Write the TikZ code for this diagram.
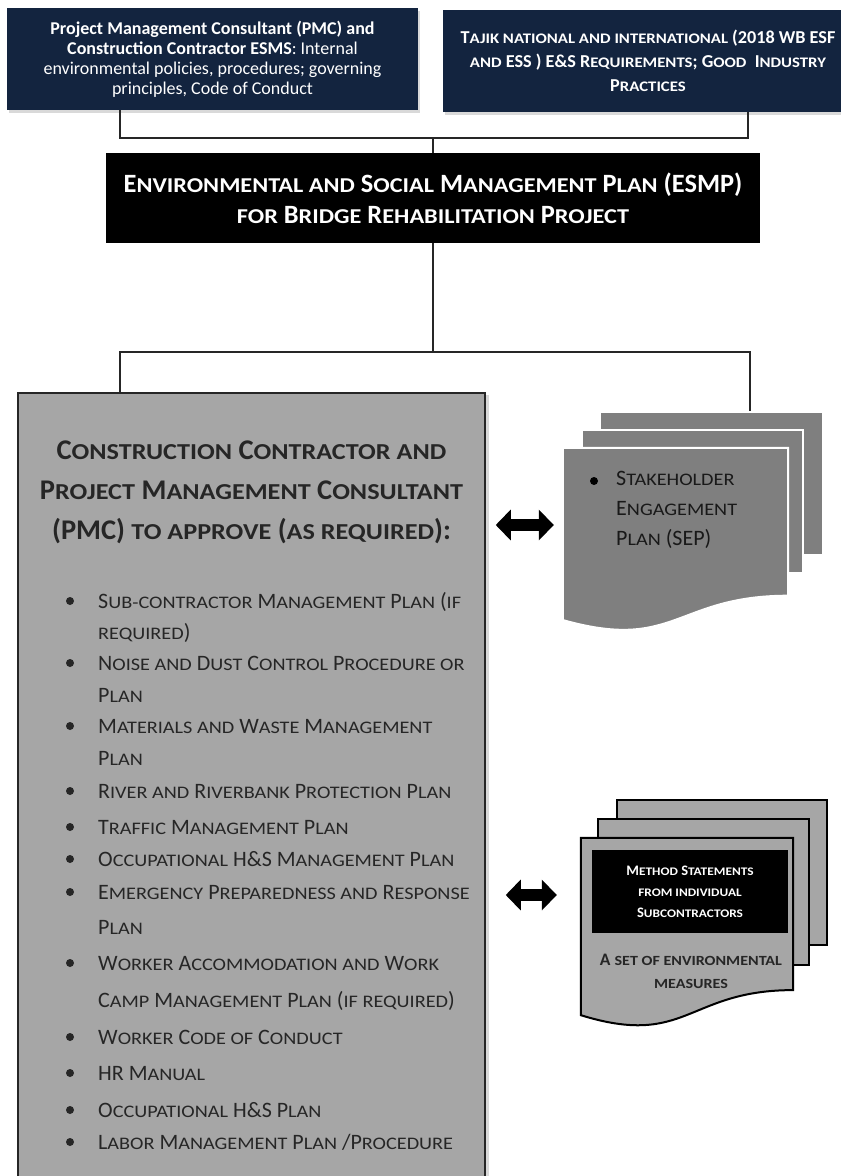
\documentclass[tikz,border=0pt]{standalone}
\usepackage{fontspec}
\setmainfont{Carlito}
\newfontfamily\smcfont{Carlito}[Scale=0.8,FakeStretch=1.15]
\newcommand\smc[1]{{\smcfont\MakeUppercase{#1}}}
\usetikzlibrary{arrows.meta,calc,shadows}
\definecolor{Navy}{HTML}{13243F}
\definecolor{Slate}{HTML}{A6A6A6}
\definecolor{Steel}{HTML}{7F7F7F}
\definecolor{Ink}{HTML}{262626}
\tikzset{
  sized/.style 2 args={minimum width=#1pt,minimum height=#2pt,inner sep=0pt},
  navybox/.style={fill=Navy,text=white,align=center,
    drop shadow={shadow xshift=2pt,shadow yshift=-3pt,opacity=.3}},
  blackbox/.style={fill=black,text=white,align=center},
  plansbox/.style={fill=Slate,draw=Ink,line width=1.5pt,
    drop shadow={shadow xshift=4pt,shadow yshift=-2pt,opacity=.3}},
  seppage/.style={fill=Steel,draw=white,line width=2pt},
  mspage/.style={fill=Slate,draw=black,line width=2pt},
  link/.style={draw=Ink,line width=1.3pt},
  bigarrow/.style={line width=12pt,
    {Triangle[length=15pt,width=30pt]}-{Triangle[length=15pt,width=30pt]}},
  listline/.style={anchor=base west,inner sep=0pt,text=Ink,
    font=\fontsize{22}{31}\selectfont}
}
% page with a wavy lower edge
\newcommand\wavepage[2]{%
  \path[#2] (#1.north west) -- (#1.north east)
    -- ($(#1.north east)!.802!(#1.south east)$)
    .. controls ($(#1.north)!.802!(#1.south)$) and ($(#1.north)!1.107!(#1.south)$)
    .. ($(#1.north west)!.934!(#1.south west)$) -- cycle;}

\begin{document}
\begin{tikzpicture}[x=1pt,y=-1pt]
  \useasboundingbox (0,0) rectangle (841,1176);
  \clip (0,0) rectangle (841,1176);

  % sources
  \node[navybox,sized={411}{102},font=\fontsize{18}{20}\selectfont] (pmc) at (212.5,59)
    {\textbf{Project Management Consultant (PMC) and}\\
     \textbf{Construction Contractor ESMS}: Internal\\
     environmental policies, procedures; governing\\
     principles, Code of Conduct};
  \node[navybox,sized={410}{102},font=\bfseries\fontsize{18.2}{24}\selectfont] (tajik) at (648,61)
    {T\smc{ajik national and international} (2018 WB ESF\\
     \smc{and} ESS ) E\&S R\smc{equirements}; G\smc{ood}\ \ I\smc{ndustry}\\
     P\smc{ractices}};
  \coordinate (hub1) at (433,138);

  \node[blackbox,sized={654}{90},font=\bfseries\fontsize{26.4}{31}\selectfont] (esmp) at (433,198)
    {E\smc{nvironmental and} S\smc{ocial} M\smc{anagement} P\smc{lan} (ESMP)\\
     \smc{for} B\smc{ridge} R\smc{ehabilitation} P\smc{roject}};
  \coordinate (hub2) at (433,352);

  \draw[link] (pmc.south -| 120,0) |- (hub1) -| (tajik.south -| 748,0);
  \draw[link] (hub1) -- (esmp.north);
  \draw[link] (esmp.south) -- (hub2);

  % approvals
  \node[plansbox,sized={467}{830}] (plans) at (251.5,808) {};
  \node[align=center,text=Ink,font=\bfseries\fontsize{28.5}{40}\selectfont] (plansTitle) at (251.5,492)
    {C\smc{onstruction} C\smc{ontractor and}\\
     P\smc{roject} M\smc{anagement} C\smc{onsultant}\\
     (PMC) \smc{to approve} (\smc{as required}):};
  \foreach \y/\t [count=\i] in {
      601/{S\smc{ub-contractor} M\smc{anagement} P\smc{lan} (\smc{if}},
      632/{\smc{required})},
      663/{N\smc{oise and} D\smc{ust} C\smc{ontrol} P\smc{rocedure or}},
      695/{P\smc{lan}},
      726/{M\smc{aterials and} W\smc{aste} M\smc{anagement}},
      758/{P\smc{lan}},
      791/{R\smc{iver and} R\smc{iverbank} P\smc{rotection} P\smc{lan}},
      827/{T\smc{raffic} M\smc{anagement} P\smc{lan}},
      859/{O\smc{ccupational} H\&S M\smc{anagement} P\smc{lan}},
      892/{E\smc{mergency} P\smc{reparedness and} R\smc{esponse}},
      927/{P\smc{lan}},
      963/{W\smc{orker} A\smc{ccommodation and} W\smc{ork}},
      1000/{C\smc{amp} M\smc{anagement} P\smc{lan} (\smc{if required})},
      1037/{W\smc{orker} C\smc{ode of} C\smc{onduct}},
      1073/{HR M\smc{anual}},
      1110/{O\smc{ccupational} H\&S P\smc{lan}},
      1142/{L\smc{abor} M\smc{anagement} P\smc{lan} /P\smc{rocedure}}}
    \node[listline] (item\i) at (98,\y+7) {\t};
  \foreach \y in {601,663,726,791,827,859,892,963,1037,1073,1110,1142}
    \fill[Ink] (70,\y) circle (4pt);

  % stakeholder plan
  \node[seppage,sized={223}{143}] (sepC) at (711.5,483.5) {};
  \node[seppage,sized={221}{143}] (sepB) at (692.5,501.5) {};
  \node[sized={225}{184}] (sepA) at (675.5,540) {};
  \wavepage{sepA}{seppage}
  \fill[black] (594,481) circle (4pt);
  \node[anchor=west,align=left,inner sep=0pt,text=black!90,font=\fontsize{22}{30}\selectfont] (sepText) at (616,510)
    {S\smc{takeholder}\\ E\smc{ngagement}\\ P\smc{lan} (SEP)};
  \draw[link] (plans.north -| 120,0) |- (hub2) -| (sepC.north -| 750,0);

  % method statements
  \node[mspage,sized={210}{145}] (msC) at (722,872.5) {};
  \node[mspage,sized={211}{146}] (msB) at (703.5,892) {};
  \node[sized={212}{189.5}] (msA) at (687,932.75) {};
  \wavepage{msA}{mspage}
  \node[blackbox,sized={196}{83},font=\bfseries\fontsize{14.5}{21}\selectfont] (msBox) at (690,891.5)
    {M\smc{ethod} S\smc{tatements}\\ \smc{from individual}\\ S\smc{ubcontractors}};
  \node[align=center,text=Ink,font=\bfseries\fontsize{17.5}{23}\selectfont] (msText) at (691,971.5)
    {A \smc{set of environmental}\\ \smc{measures}};

  % links to the plan
  \coordinate (a1) at (0,525);
  \coordinate (a2) at (0,895);
  \draw[bigarrow,shorten <=10pt,shorten >=9pt] (plans.east |- a1) -- (sepA.west |- a1);
  \draw[bigarrow,shorten <=20pt,shorten >=24pt] (plans.east |- a2) -- (msA.west |- a2);
\end{tikzpicture}
\end{document}
